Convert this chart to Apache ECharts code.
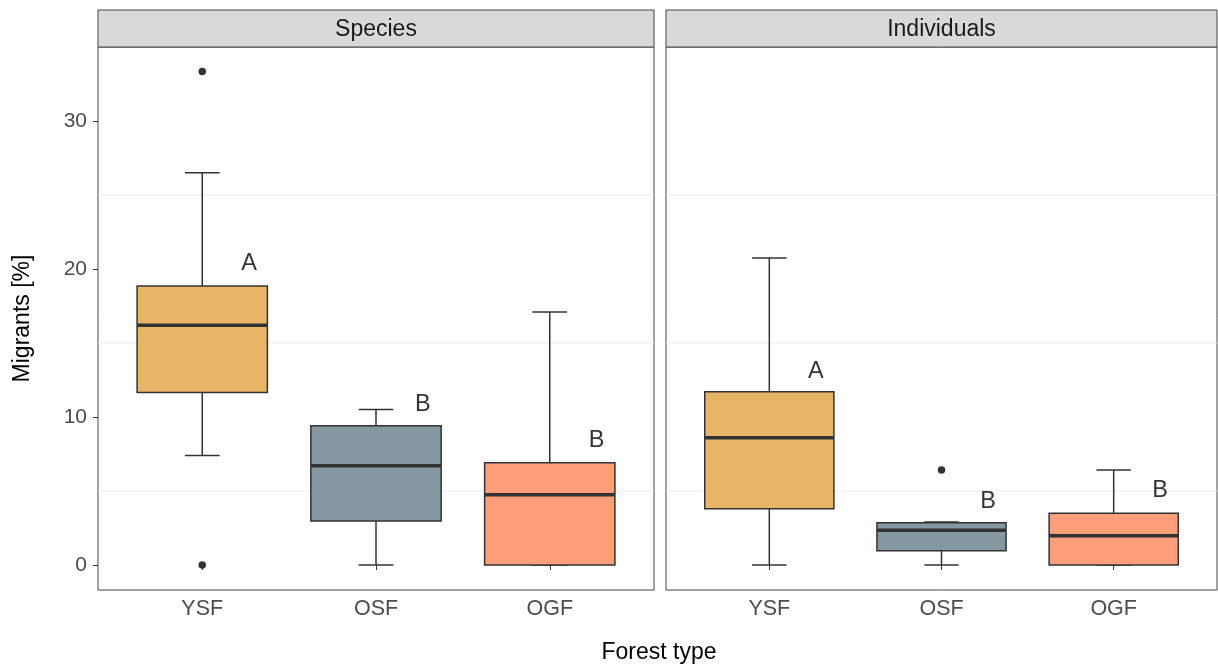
<!DOCTYPE html>
<html>
<head>
<meta charset="utf-8">
<title>Migrants by forest type</title>
<script src="https://cdn.jsdelivr.net/npm/echarts@6/dist/echarts.min.js"></script>
<style>
  html, body { margin: 0; padding: 0; background: #ffffff; }
  #chart { width: 1218px; height: 668px; }
</style>
</head>
<body>
<div id="chart"></div>
<script>
// Forest types along the x axis
const categories = ['YSF', 'OSF', 'OGF'];
const panelTitles = ['Species', 'Individuals'];

// Box statistics per forest type: [lower whisker, Q1, median, Q3, upper whisker]
const speciesYSF = [7.4, 11.65, 16.2, 18.85, 26.5];
const speciesOSF = [0, 2.97, 6.7, 9.4, 10.5];
const speciesOGF = [0, 0, 4.75, 6.9, 17.1];
const individualsYSF = [0, 3.8, 8.6, 11.7, 20.75];
const individualsOSF = [0, 0.97, 2.35, 2.85, 2.9];
const individualsOGF = [0, 0, 1.98, 3.5, 6.42];

// Outliers: [category index, value]
const speciesOutliers = [[0, 33.35], [0, 0]];
const individualsOutliers = [[1, 6.42]];

// Significance letters and the height they sit at
const speciesLetters = ['A', 'B', 'B'];
const speciesLetterY = [20.35, 10.85, 8.4];
const individualsLetters = ['A', 'B', 'B'];
const individualsLetterY = [13.1, 4.3, 5.0];

// Tick values
const yTicks = [0, 10, 20, 30];
const yMinorGrid = [5, 15, 25];

// Fill colour per forest type
const fills = ['#E8B566', '#8597A1', '#FF9E7A'];

// ---- layout ----
const FONT = '"Liberation Sans", Arial, Helvetica, sans-serif';
const panels = [
  { left: 98, width: 556 },
  { left: 666, width: 551 }
];
const panelTop = 47, panelBottom = 590, stripTop = 10;
const xMin = 0.4, xMax = 3.6;
const yMin = -1.69, yMax = 35.0;

const chart = echarts.init(document.getElementById('chart'), null, { renderer: 'canvas' });

function boxRows(stats) {
  return stats.map((s, i) => [i + 1].concat(s).concat([i]));
}

// horizontal background grid lines across the whole panel
function renderGridLine(params, api) {
  const v = api.value(0);
  const a = api.coord([xMin, v]);
  const b = api.coord([xMax, v]);
  return {
    type: 'line', silent: true,
    shape: { x1: a[0], y1: a[1], x2: b[0], y2: b[1] },
    style: { stroke: '#ebebeb', lineWidth: 1 }
  };
}

function renderBox(params, api) {
  const x = api.value(0);
  const low = api.value(1), q1 = api.value(2), med = api.value(3), q3 = api.value(4), high = api.value(5);
  const ci = api.value(6);
  const half = api.size([0.375, 0])[0];
  const capHalf = api.size([0.1, 0])[0];
  const pLow = api.coord([x, low]);
  const pQ1 = api.coord([x, q1]);
  const pMed = api.coord([x, med]);
  const pQ3 = api.coord([x, q3]);
  const pHigh = api.coord([x, high]);
  const cx = pMed[0];
  const stroke = { stroke: '#333333', lineWidth: 1.5, fill: null };
  return {
    type: 'group',
    children: [
      { type: 'line', shape: { x1: cx, y1: pLow[1], x2: cx, y2: pQ1[1] }, style: stroke },
      { type: 'line', shape: { x1: cx, y1: pQ3[1], x2: cx, y2: pHigh[1] }, style: stroke },
      { type: 'line', shape: { x1: cx - capHalf, y1: pLow[1], x2: cx + capHalf, y2: pLow[1] }, style: stroke },
      { type: 'line', shape: { x1: cx - capHalf, y1: pHigh[1], x2: cx + capHalf, y2: pHigh[1] }, style: stroke },
      { type: 'rect', shape: { x: cx - half, y: pQ3[1], width: half * 2, height: pQ1[1] - pQ3[1] },
        style: { fill: fills[ci], stroke: '#333333', lineWidth: 1.5 } },
      { type: 'line', shape: { x1: cx - half, y1: pMed[1], x2: cx + half, y2: pMed[1] },
        style: { stroke: '#333333', lineWidth: 3.5 } }
    ]
  };
}

const boxSets = [
  [speciesYSF, speciesOSF, speciesOGF],
  [individualsYSF, individualsOSF, individualsOGF]
];
const outlierSets = [speciesOutliers, individualsOutliers];
const letterSets = [
  [speciesLetters, speciesLetterY],
  [individualsLetters, individualsLetterY]
];

const grids = [], xAxes = [], yAxes = [], series = [], graphics = [];

panels.forEach((p, k) => {
  grids.push({
    left: p.left, width: p.width, top: panelTop, height: panelBottom - panelTop,
    show: true, borderColor: '#444444', borderWidth: 1, backgroundColor: '#ffffff', containLabel: false
  });
  xAxes.push({
    gridIndex: k, type: 'value', min: xMin, max: xMax,
    axisLine: { show: false },
    splitLine: { show: false },
    axisTick: { show: true, length: 5, customValues: [1, 2, 3], lineStyle: { color: '#333333', width: 1 } },
    axisLabel: {
      show: true, customValues: [1, 2, 3], margin: 8,
      formatter: v => categories[Math.round(v) - 1] || '',
      color: '#4d4d4d', fontSize: 21.5, fontFamily: FONT
    }
  });
  yAxes.push({
    gridIndex: k, type: 'value', min: yMin, max: yMax,
    axisLine: { show: false },
    splitLine: { show: false },
    axisTick: { show: k === 0, length: 5, customValues: yTicks, lineStyle: { color: '#333333', width: 1 } },
    axisLabel: {
      show: k === 0, customValues: yTicks, margin: 11,
      color: '#4d4d4d', fontSize: 21, fontFamily: FONT
    },
    name: k === 0 ? 'Migrants [%]' : '',
    nameLocation: 'middle', nameGap: 64, nameRotate: 90,
    nameTextStyle: { color: '#000000', fontSize: 23, fontFamily: FONT }
  });

  series.push({
    type: 'custom', xAxisIndex: k, yAxisIndex: k, z: 1, silent: true,
    renderItem: renderGridLine,
    encode: { y: 0 },
    data: yMinorGrid.map(v => [v])
  });

  series.push({
    type: 'custom', xAxisIndex: k, yAxisIndex: k, z: 3,
    renderItem: renderBox,
    encode: { x: 0, y: [1, 2, 3, 4, 5] },
    data: boxRows(boxSets[k])
  });

  series.push({
    type: 'scatter', xAxisIndex: k, yAxisIndex: k, z: 4,
    symbol: 'circle', symbolSize: 7.5,
    itemStyle: { color: '#333333', opacity: 1 },
    data: outlierSets[k].map(o => [o[0] + 1, o[1]])
  });

  const [letters, ly] = letterSets[k];
  series.push({
    type: 'scatter', xAxisIndex: k, yAxisIndex: k, z: 5,
    symbolSize: 0, silent: true,
    label: {
      show: true, position: 'inside', formatter: d => d.value[2],
      color: '#000000', fontSize: 23.5, fontFamily: FONT
    },
    data: letters.map((t, i) => [i + 1.27, ly[i], t])
  });

  // facet strip
  graphics.push({
    type: 'rect', silent: true,
    shape: { x: p.left, y: stripTop, width: p.width, height: panelTop - stripTop },
    style: { fill: '#d9d9d9', stroke: '#444444', lineWidth: 1 }
  });
  graphics.push({
    type: 'text', silent: true,
    x: p.left + p.width / 2, y: (stripTop + panelTop) / 2 + 1,
    style: {
      text: panelTitles[k], fill: '#1a1a1a', font: '23px ' + FONT,
      textAlign: 'center', textVerticalAlign: 'middle'
    }
  });
});

graphics.push({
  type: 'text', silent: true,
  x: 659, y: 653,
  style: {
    text: 'Forest type', fill: '#000000', font: '23px ' + FONT,
    textAlign: 'center', textVerticalAlign: 'middle'
  }
});

chart.setOption({
  animation: false,
  backgroundColor: '#ffffff',
  grid: grids,
  xAxis: xAxes,
  yAxis: yAxes,
  series: series,
  graphic: graphics
});
</script>
</body>
</html>
